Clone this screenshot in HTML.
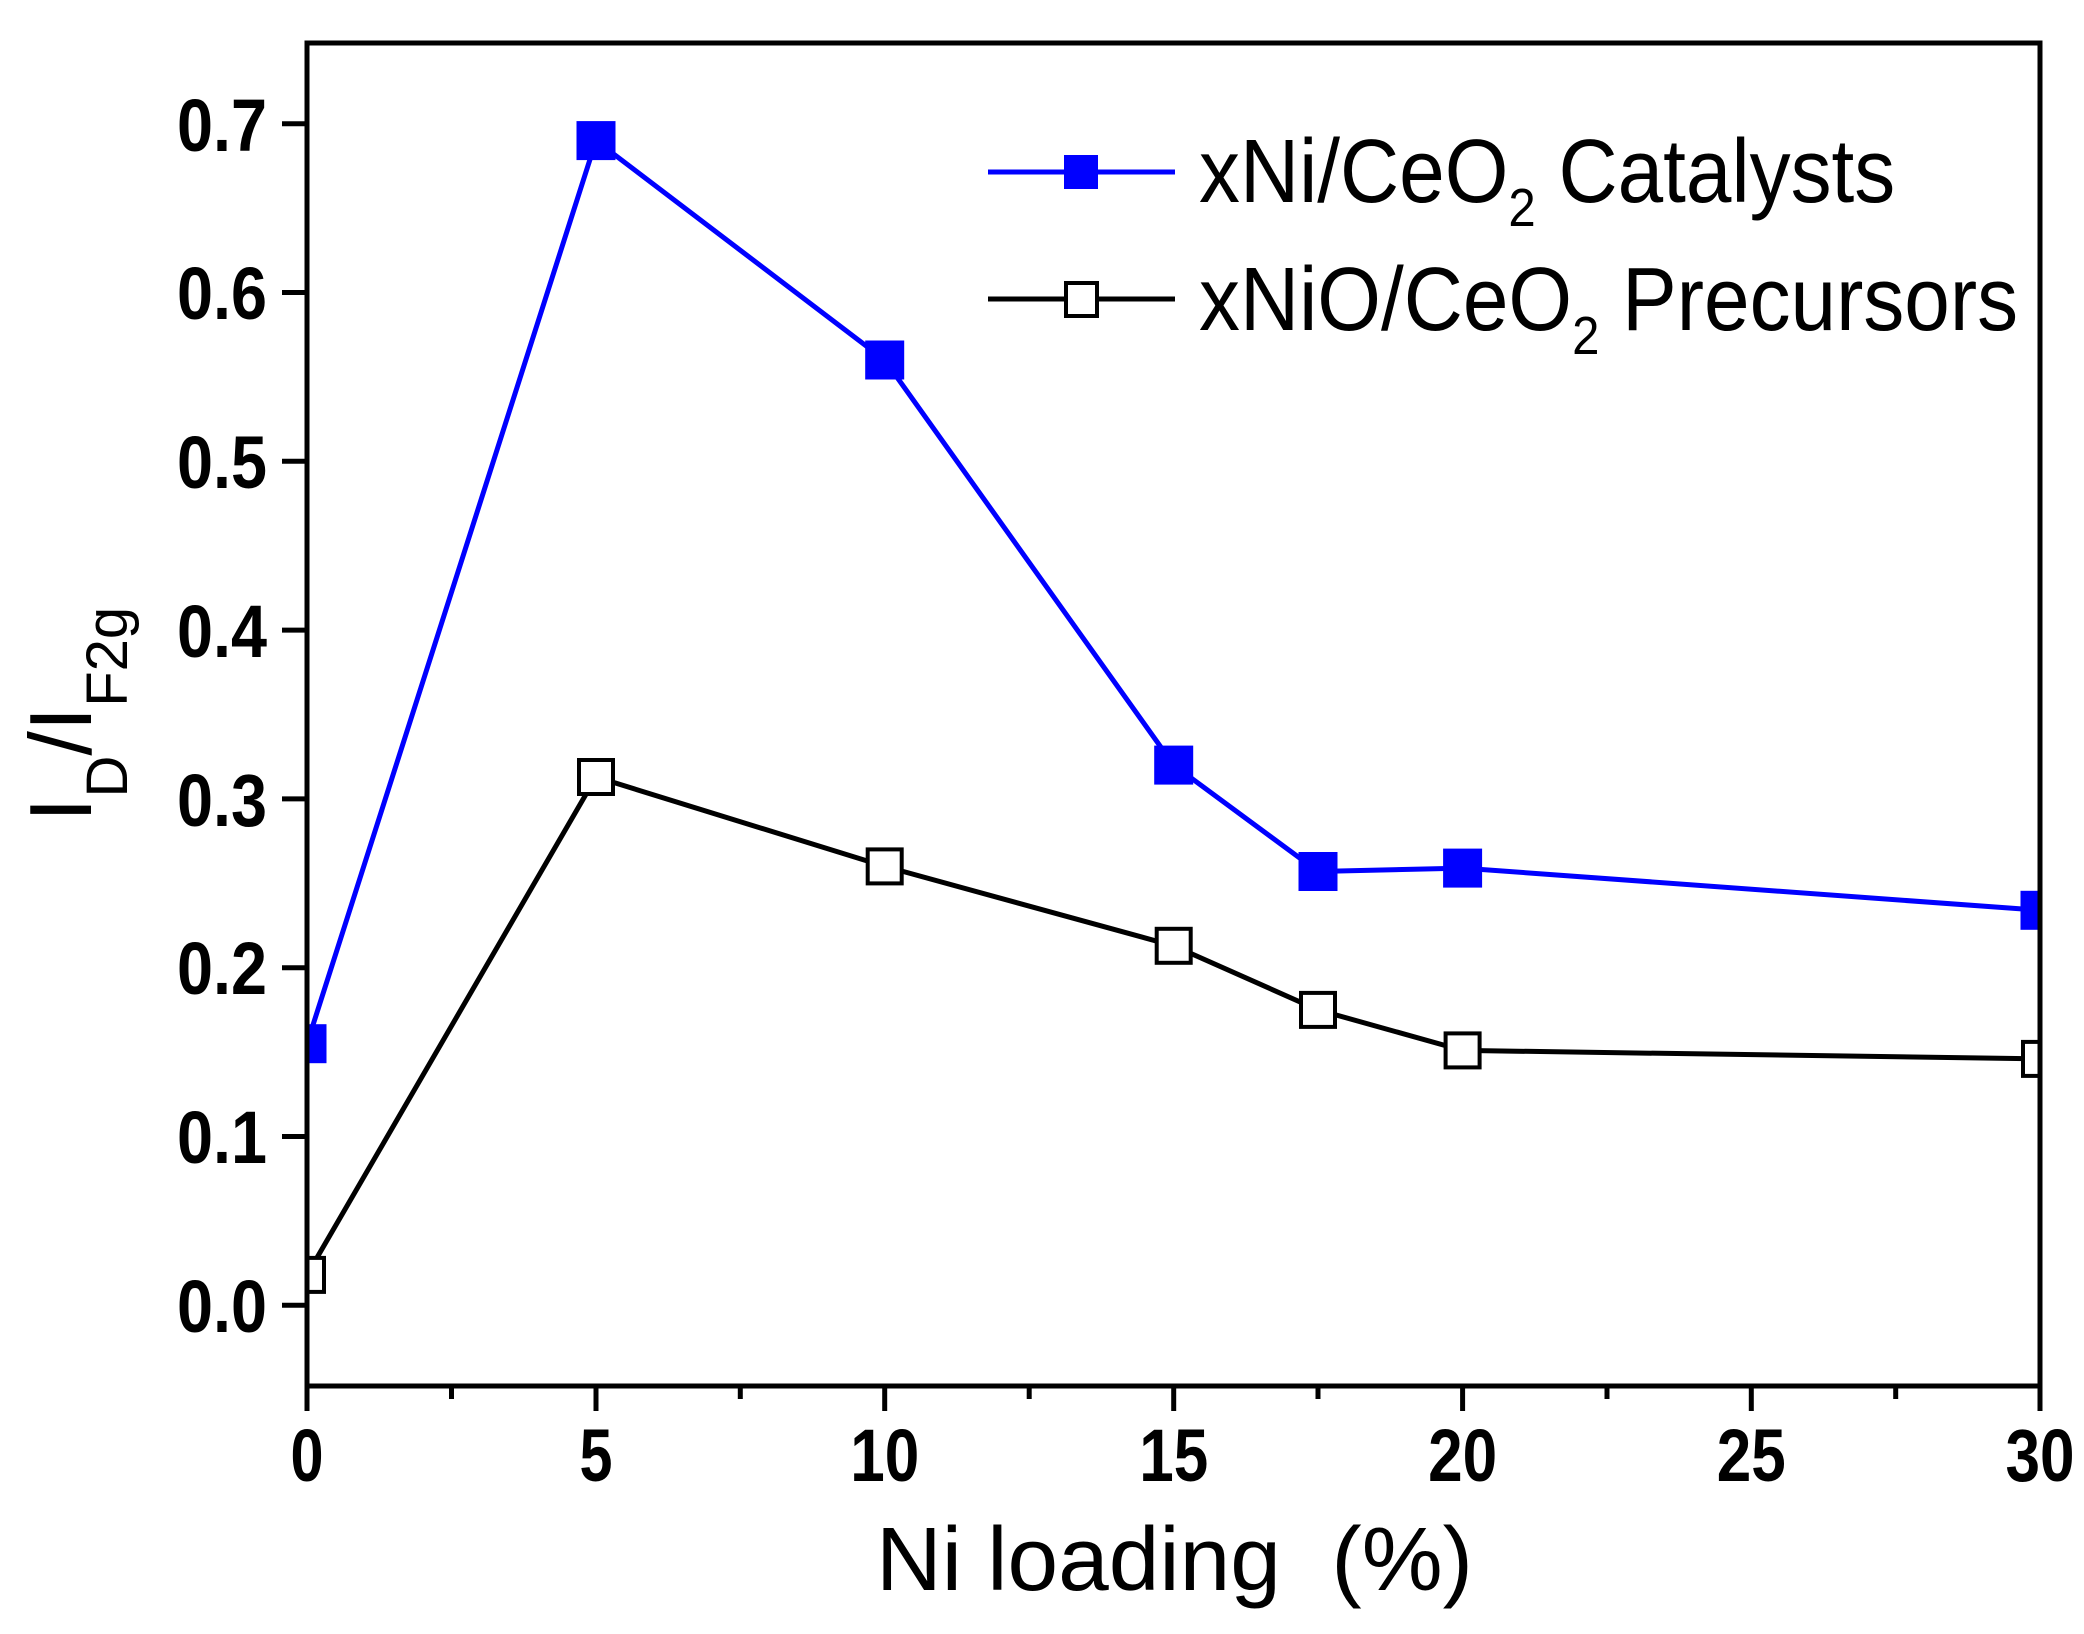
<!DOCTYPE html>
<html><head><meta charset="utf-8"><style>html,body{margin:0;padding:0;background:#fff}</style></head>
<body>
<svg width="2084" height="1629" viewBox="0 0 2084 1629" xmlns="http://www.w3.org/2000/svg" font-family="Liberation Sans, Arial, sans-serif">
<defs><clipPath id="c"><rect x="307" y="43" width="1733" height="1343"/></clipPath></defs>
<rect width="2084" height="1629" fill="#fff"/>
<g clip-path="url(#c)">
<polyline fill="none" stroke="#0000ff" stroke-width="5" points="307,1043.7 596,140.6 884.7,360 1173.7,765.1 1318,871.5 1462.6,868.1 2040,910.3"/>
<g fill="#0000ff" stroke="#0000ff" stroke-width="3">
<rect x="289" y="1025.7" width="36" height="36"/><rect x="578" y="122.6" width="36" height="36"/><rect x="866.7" y="342" width="36" height="36"/><rect x="1155.7" y="747.1" width="36" height="36"/><rect x="1300" y="853.5" width="36" height="36"/><rect x="1444.6" y="850.1" width="36" height="36"/><rect x="2022" y="892.3" width="36" height="36"/>
</g>
<polyline fill="none" stroke="#000" stroke-width="5" points="307,1274.9 596,777 884.7,866.4 1173.7,945.8 1318,1009.9 1462.6,1050.4 2040,1058.9"/>
<g fill="#fff" stroke="#000" stroke-width="4">
<rect x="290" y="1257.9" width="34" height="34"/><rect x="579" y="760" width="34" height="34"/><rect x="867.7" y="849.4" width="34" height="34"/><rect x="1156.7" y="928.8" width="34" height="34"/><rect x="1301" y="992.9" width="34" height="34"/><rect x="1445.6" y="1033.4" width="34" height="34"/><rect x="2023" y="1041.9" width="34" height="34"/>
</g>
</g>
<rect x="307" y="43" width="1733" height="1343" fill="none" stroke="#000" stroke-width="5"/>
<g stroke="#000" stroke-width="5">
<line x1="307" y1="1386" x2="307" y2="1411"/><line x1="596" y1="1386" x2="596" y2="1411"/><line x1="884.7" y1="1386" x2="884.7" y2="1411"/><line x1="1173.7" y1="1386" x2="1173.7" y2="1411"/><line x1="1462.6" y1="1386" x2="1462.6" y2="1411"/><line x1="1751.3" y1="1386" x2="1751.3" y2="1411"/><line x1="2040" y1="1386" x2="2040" y2="1411"/>
<line x1="451.5" y1="1386" x2="451.5" y2="1399"/><line x1="740.3" y1="1386" x2="740.3" y2="1399"/><line x1="1029.2" y1="1386" x2="1029.2" y2="1399"/><line x1="1318" y1="1386" x2="1318" y2="1399"/><line x1="1607" y1="1386" x2="1607" y2="1399"/><line x1="1895.7" y1="1386" x2="1895.7" y2="1399"/>
<line x1="282" y1="1305.3" x2="307" y2="1305.3"/><line x1="282" y1="1136.5" x2="307" y2="1136.5"/><line x1="282" y1="967.7" x2="307" y2="967.7"/><line x1="282" y1="798.9" x2="307" y2="798.9"/><line x1="282" y1="630.1" x2="307" y2="630.1"/><line x1="282" y1="461.3" x2="307" y2="461.3"/><line x1="282" y1="292.5" x2="307" y2="292.5"/><line x1="282" y1="123.7" x2="307" y2="123.7"/>
</g>
<g font-weight="bold" font-size="74" text-anchor="end">
<text x="267" y="1332" textLength="90" lengthAdjust="spacingAndGlyphs">0.0</text>
<text x="267" y="1163" textLength="90" lengthAdjust="spacingAndGlyphs">0.1</text>
<text x="267" y="994" textLength="90" lengthAdjust="spacingAndGlyphs">0.2</text>
<text x="267" y="826" textLength="90" lengthAdjust="spacingAndGlyphs">0.3</text>
<text x="267" y="657" textLength="90" lengthAdjust="spacingAndGlyphs">0.4</text>
<text x="267" y="488" textLength="90" lengthAdjust="spacingAndGlyphs">0.5</text>
<text x="267" y="319" textLength="90" lengthAdjust="spacingAndGlyphs">0.6</text>
<text x="267" y="151" textLength="90" lengthAdjust="spacingAndGlyphs">0.7</text>
</g>
<g font-weight="bold" font-size="74" text-anchor="middle">
<text x="307" y="1481" textLength="33" lengthAdjust="spacingAndGlyphs">0</text><text x="596" y="1481" textLength="33" lengthAdjust="spacingAndGlyphs">5</text>
<text x="884.7" y="1481" textLength="69" lengthAdjust="spacingAndGlyphs">10</text>
<text x="1173.7" y="1481" textLength="69" lengthAdjust="spacingAndGlyphs">15</text>
<text x="1462.6" y="1481" textLength="69" lengthAdjust="spacingAndGlyphs">20</text>
<text x="1751.3" y="1481" textLength="69" lengthAdjust="spacingAndGlyphs">25</text>
<text x="2040" y="1481" textLength="69" lengthAdjust="spacingAndGlyphs">30</text>
</g>
<text x="876" y="1590" font-size="90" textLength="597" lengthAdjust="spacingAndGlyphs" xml:space="preserve">Ni loading  (%)</text>
<g transform="translate(91,822) rotate(-90)" font-size="88">
<text x="0" y="0">I<tspan font-size="58" dy="36">D</tspan><tspan dy="-36">/I</tspan><tspan font-size="58" dy="36">F2g</tspan></text>
</g>
<line x1="988" y1="172" x2="1175" y2="172" stroke="#0000ff" stroke-width="5"/>
<rect x="1064" y="155" width="34" height="34" fill="#0000ff"/>
<line x1="988" y1="299" x2="1175" y2="299" stroke="#000" stroke-width="5"/>
<rect x="1066" y="283" width="31" height="33" fill="#fff" stroke="#000" stroke-width="4"/>
<g transform="translate(1199,202) scale(0.91,1)"><text x="0" y="0" font-size="90">xNi/CeO<tspan font-size="54" dy="24">2</tspan><tspan dy="-24"> Catalysts</tspan></text></g>
<g transform="translate(1199,330) scale(0.91,1)"><text x="0" y="0" font-size="90">xNiO/CeO<tspan font-size="54" dy="24">2</tspan><tspan dy="-24"> Precursors</tspan></text></g>
</svg>
</body></html>
